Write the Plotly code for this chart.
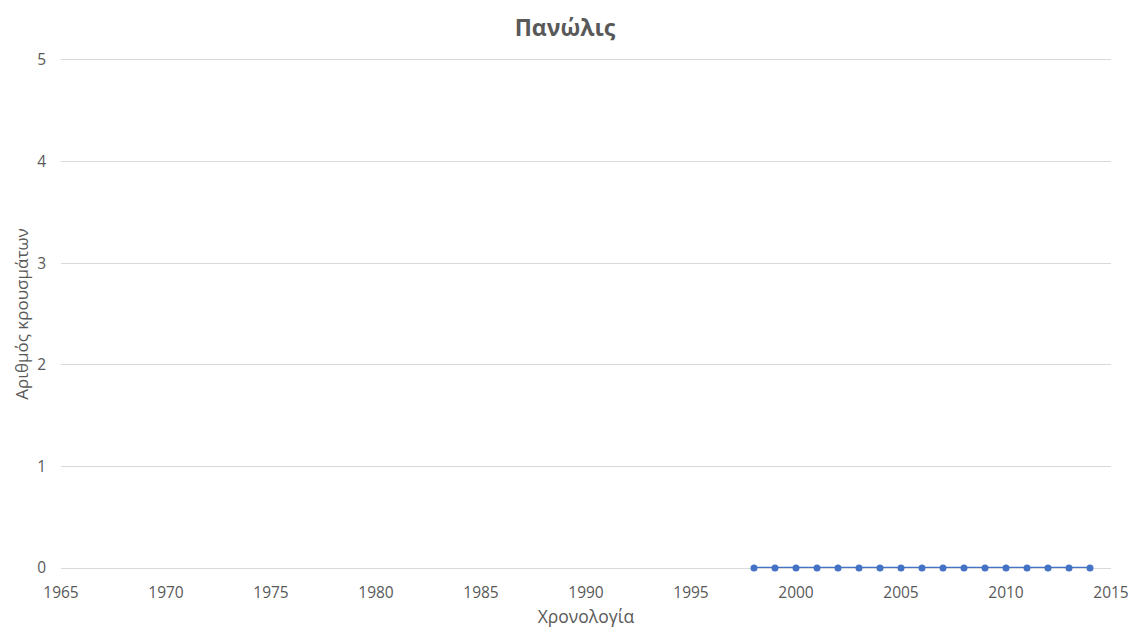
import plotly.graph_objects as go

# Annual plague cases
years = list(range(1998, 2015))
cases = [0, 0, 0, 0, 0, 0, 0, 0, 0, 0, 0, 0, 0, 0, 0, 0, 0]

x_ticks = [1965, 1970, 1975, 1980, 1985, 1990, 1995, 2000, 2005, 2010, 2015]
y_ticks = [0, 1, 2, 3, 4, 5]

FONT = "Open Sans, Noto Sans, DejaVu Sans, sans-serif"
GREY = "#595959"
GRID = "#d9d9d9"

fig = go.Figure()
fig.add_trace(go.Scatter(
    x=years, y=cases,
    mode="lines+markers",
    line=dict(color="#4472C4", width=2.5),
    marker=dict(color="#4472C4", size=7),
    showlegend=False,
    cliponaxis=False,
))

fig.update_layout(
    width=1130, height=629,
    margin=dict(l=61, r=19, t=60, b=61),
    paper_bgcolor="white", plot_bgcolor="white",
    title=dict(text="<b>Πανώλις</b>", x=0.5, xanchor="center", y=0.955, yanchor="middle",
               font=dict(family=FONT, size=23, color=GREY)),
    font=dict(family=FONT, color=GREY),
)
# x axis: top/bottom border lines stand in for the gridlines at 0 and 5
fig.update_xaxes(
    range=[1965, 2015], tickvals=x_ticks, showgrid=False, zeroline=False,
    showline=True, linecolor=GRID, linewidth=1, mirror=True, layer="below traces",
    ticks="", ticklabelstandoff=10, automargin=False,
    tickfont=dict(size=15.5, color=GREY),
    title=dict(text="Χρονολογία", font=dict(size=17.5, color=GREY), standoff=9),
)
fig.update_yaxes(
    range=[0, 5], tickvals=y_ticks, showgrid=True, gridcolor=GRID, gridwidth=1,
    zeroline=False, showline=False, ticks="", ticklabelstandoff=14,
    layer="below traces", automargin=False, tickfont=dict(size=15.5, color=GREY),
    title=dict(text="Αριθμός κρουσμάτων", font=dict(size=17, color=GREY), standoff=4),
)

fig.write_html("out.html")
